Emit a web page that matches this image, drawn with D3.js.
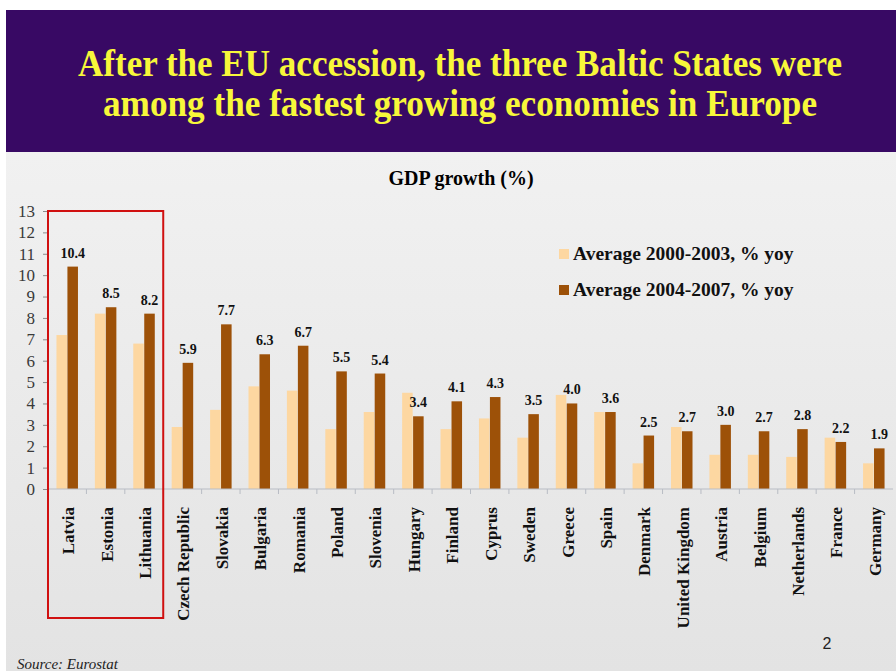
<!DOCTYPE html>
<html>
<head>
<meta charset="utf-8">
<script src="https://cdn.jsdelivr.net/npm/d3@7"></script>
<style>
  body { margin: 0; background: #fff; }
  svg { display: block; }
</style>
</head>
<body>
<div id="chart"></div>
<script>
// Data
const countries = ['Latvia', 'Estonia', 'Lithuania', 'Czech Republic', 'Slovakia', 'Bulgaria',
  'Romania', 'Poland', 'Slovenia', 'Hungary', 'Finland', 'Cyprus', 'Sweden', 'Greece', 'Spain',
  'Denmark', 'United Kingdom', 'Austria', 'Belgium', 'Netherlands', 'France', 'Germany']
const avg2000_2003 = [7.2, 8.2, 6.8, 2.9, 3.7, 4.8, 4.6, 2.8, 3.6, 4.5, 2.8, 3.3, 2.4, 4.4, 3.6,
  1.2, 2.9, 1.6, 1.6, 1.5, 2.4, 1.2]
const avg2004_2007 = [10.4, 8.5, 8.2, 5.9, 7.7, 6.3, 6.7, 5.5, 5.4, 3.4, 4.1, 4.3, 3.5, 4.0, 3.6,
  2.5, 2.7, 3.0, 2.7, 2.8, 2.2, 1.9]
const seriesNames = ['Average 2000-2003, % yoy', 'Average 2004-2007, % yoy']
const yTicks = d3.range(0, 14)
const baltic = ['Latvia', 'Estonia', 'Lithuania']

const W = 896
const H = 671
const colors = ['#fdd7a1', '#9d5108']
const serif = '"Liberation Serif", "Times New Roman", serif'

const svg = d3.select('#chart').append('svg')
  .attr('width', W)
  .attr('height', H)

const defs = svg.append('defs')
const grad = defs.append('linearGradient')
  .attr('id', 'bg')
  .attr('x1', 0).attr('y1', 0).attr('x2', 0).attr('y2', 1)
grad.append('stop').attr('offset', '0%').attr('stop-color', '#f1f1f1')
grad.append('stop').attr('offset', '100%').attr('stop-color', '#e3e3e3')

// slide background + title band
svg.append('rect')
  .attr('x', 6).attr('y', 152).attr('width', W - 6).attr('height', H - 152)
  .attr('fill', 'url(#bg)')
svg.append('rect')
  .attr('x', 6).attr('y', 10).attr('width', W - 6).attr('height', 142)
  .attr('fill', '#380964')

// title is a tall, narrow bold serif: stretch vertically a little
const titleLines = [
  { text: 'After the EU accession, the three Baltic States were', y: 76, len: 764 },
  { text: 'among the fastest growing economies in Europe', y: 116, len: 714 }
]
svg.selectAll('.title')
  .data(titleLines)
  .enter()
  .append('text')
  .attr('class', 'title')
  .attr('transform', d => 'translate(' + (W / 2 + 12) + ',' + d.y + ') scale(1,1.12)')
  .attr('text-anchor', 'middle')
  .attr('textLength', d => d.len)
  .attr('lengthAdjust', 'spacingAndGlyphs')
  .attr('font-family', serif)
  .attr('font-weight', 'bold')
  .attr('font-size', 34)
  .attr('fill', '#f7f73a')
  .text(d => d.text)

svg.append('text')
  .attr('x', 461)
  .attr('y', 185)
  .attr('text-anchor', 'middle')
  .attr('font-family', serif)
  .attr('font-weight', 'bold')
  .attr('font-size', 20)
  .text('GDP growth (%)')

// Scales
const xLeft = 48
const xRight = 893
const yTop = 211
const yBottom = 489

const x0 = d3.scaleBand()
  .domain(countries)
  .range([xLeft, xRight])
  .paddingInner(0.44)
  .paddingOuter(0.22)

const x1 = d3.scaleBand()
  .domain([0, 1])
  .range([0, x0.bandwidth()])
  .paddingInner(0.04)

const y = d3.scaleLinear()
  .domain([0, 13])
  .range([yBottom, yTop])

const rows = countries.map((c, i) => ({
  country: c,
  values: [avg2000_2003[i], avg2004_2007[i]]
}))

// bars
const groups = svg.selectAll('.country')
  .data(rows)
  .enter()
  .append('g')
  .attr('class', 'country')
  .attr('transform', d => 'translate(' + x0(d.country) + ',0)')

groups.selectAll('rect')
  .data(d => d.values.map((v, k) => ({ k: k, v: v })))
  .enter()
  .append('rect')
  .attr('x', d => x1(d.k))
  .attr('y', d => y(d.v))
  .attr('width', x1.bandwidth())
  .attr('height', d => y(0) - y(d.v))
  .attr('fill', d => colors[d.k])

groups.append('text')
  .attr('x', x1(1) + x1.bandwidth() / 2)
  .attr('y', d => y(d.values[1]) - 9)
  .attr('text-anchor', 'middle')
  .attr('font-family', serif)
  .attr('font-weight', 'bold')
  .attr('font-size', 14)
  .attr('fill', '#111')
  .text(d => d3.format('.1f')(d.values[1]))

// y axis
const yAxis = d3.axisLeft(y)
  .tickValues(yTicks)
  .tickSize(5)
  .tickPadding(8)
  .tickFormat(d3.format('d'))

const yg = svg.append('g')
  .attr('transform', 'translate(' + xLeft + ',0)')
  .call(yAxis)
yg.select('.domain').attr('stroke', '#8c8c8c')
yg.selectAll('.tick line').attr('stroke', '#8c8c8c')
yg.selectAll('.tick text')
  .attr('font-family', serif)
  .attr('font-size', 17)
  .attr('fill', '#3a3a3a')

// x axis: line with ticks at category boundaries
const xg = svg.append('g').attr('class', 'x-axis')
xg.append('line')
  .attr('x1', xLeft).attr('x2', xRight)
  .attr('y1', yBottom).attr('y2', yBottom)
  .attr('stroke', '#b8bcc4')
xg.selectAll('.xtick')
  .data(countries)
  .enter()
  .append('line')
  .attr('class', 'xtick')
  .attr('x1', d => x0(d) - x0.step() * 0.22)
  .attr('x2', d => x0(d) - x0.step() * 0.22)
  .attr('y1', yBottom)
  .attr('y2', yBottom + 5)
  .attr('stroke', '#b8bcc4')

xg.selectAll('.xlabel')
  .data(countries)
  .enter()
  .append('text')
  .attr('class', 'xlabel')
  .attr('transform', d => 'translate(' + (x0(d) + x0.bandwidth() / 2 + 7) + ',' + (yBottom + 18) + ') rotate(-90)')
  .attr('text-anchor', 'end')
  .attr('font-family', serif)
  .attr('font-weight', 'bold')
  .attr('font-size', 17)
  .attr('fill', '#111')
  .text(d => d)

// red box around the Baltic states
const bx0 = x0(baltic[0]) - x0.step() * 0.22
const bx1 = x0(baltic[2]) + x0.bandwidth() + x0.step() * 0.22
svg.append('rect')
  .attr('x', bx0)
  .attr('y', yTop)
  .attr('width', bx1 - bx0)
  .attr('height', 618 - yTop)
  .attr('fill', 'none')
  .attr('stroke', '#d01010')
  .attr('stroke-width', 2)

// legend
const legend = svg.selectAll('.legend')
  .data(seriesNames)
  .enter()
  .append('g')
  .attr('class', 'legend')
  .attr('transform', (d, i) => 'translate(559,' + (254 + i * 36) + ')')
legend.append('rect')
  .attr('x', 0).attr('y', -5)
  .attr('width', 10).attr('height', 10)
  .attr('fill', (d, i) => colors[i])
legend.append('text')
  .attr('x', 14)
  .attr('y', 6)
  .attr('font-family', serif)
  .attr('font-weight', 'bold')
  .attr('font-size', 19.5)
  .attr('fill', '#111')
  .text(d => d)

// footer
svg.append('text')
  .attr('x', 17)
  .attr('y', 669)
  .attr('font-family', serif)
  .attr('font-style', 'italic')
  .attr('font-size', 15)
  .attr('fill', '#222')
  .text('Source: Eurostat')

svg.append('text')
  .attr('x', 827)
  .attr('y', 649)
  .attr('text-anchor', 'middle')
  .attr('font-family', '"Liberation Sans", Arial, sans-serif')
  .attr('font-size', 16)
  .attr('fill', '#222')
  .text('2')
</script>
</body>
</html>
